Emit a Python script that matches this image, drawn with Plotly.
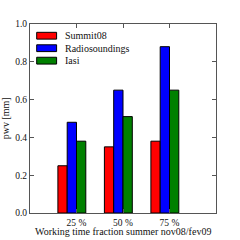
import plotly.graph_objects as go

categories = ["25 %", "50 %", "75 %"]
positions = [1, 2, 3]
series_names = ["Summit08", "Radiosoundings", "Iasi"]
summit08 = [0.25, 0.35, 0.38]
radiosoundings = [0.48, 0.65, 0.88]
iasi = [0.38, 0.51, 0.65]
series_values = [summit08, radiosoundings, iasi]
colors = ["#ff0000", "#0000ff", "#008000"]
offsets = [-0.4, -0.2, 0.0]
yticks = [0.0, 0.2, 0.4, 0.6, 0.8, 1.0]
ytick_labels = ["0.0", "0.2", "0.4", "0.6", "0.8", "1.0"]

FONT = "Liberation Serif"

fig = go.Figure()
for name, vals, col, off in zip(series_names, series_values, colors, offsets):
    fig.add_trace(go.Bar(
        x=positions, y=vals, name=name, offset=off, width=0.2,
        marker=dict(color=col, line=dict(color="black", width=1)),
        showlegend=False,
    ))

# manual legend (matplotlib style patches)
leg_y = [0.938, 0.872, 0.806]
for name, col, yy in zip(series_names, colors, leg_y):
    fig.add_shape(type="rect", xref="paper", yref="paper",
                  x0=0.036, x1=0.143, y0=yy - 0.018, y1=yy + 0.018,
                  fillcolor=col, line=dict(color="black", width=1))
    fig.add_annotation(x=0.176, y=yy, xref="paper", yref="paper",
                       text=name, showarrow=False, xanchor="left", yanchor="middle",
                       font=dict(family=FONT, size=10, color="#111"))

axis_common = dict(showline=True, linecolor="#555", linewidth=1.2, mirror="ticks",
                   ticks="inside", ticklen=4, tickcolor="#555", tickwidth=1,
                   showgrid=False, zeroline=False,
                   tickfont=dict(family=FONT, size=9.5, color="#111"))

fig.update_xaxes(range=[0, 4], tickvals=positions, ticktext=categories, **axis_common)
fig.update_yaxes(range=[0, 1.0], tickvals=yticks, ticktext=ytick_labels, **axis_common)

fig.add_annotation(x=0.5, y=-0.058, xref="paper", yref="paper",
                   text="Working time fraction summer nov08/fev09", showarrow=False,
                   xanchor="center", yanchor="top",
                   font=dict(family=FONT, size=10, color="#111"))
fig.add_annotation(x=-0.09, y=0.5, xref="paper", yref="paper",
                   text="pwv [mm]", showarrow=False, textangle=-90,
                   xanchor="right", yanchor="middle",
                   font=dict(family=FONT, size=10, color="#111"))

fig.update_layout(width=240, height=240, barmode="overlay",
                  margin=dict(l=30, r=24, t=24, b=24, pad=0),
                  plot_bgcolor="white", paper_bgcolor="white",
                  font=dict(family=FONT))

fig.write_html("out.html", config={"displayModeBar": False},
               post_script="document.body.style.margin='0';document.body.style.overflow='hidden';")
